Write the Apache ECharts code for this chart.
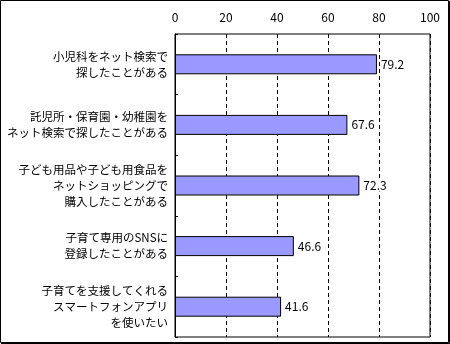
<!DOCTYPE html>
<html>
<head>
<meta charset="utf-8">
<script src="https://cdn.jsdelivr.net/npm/echarts@6/dist/echarts.min.js"></script>
<style>
  html, body { margin: 0; padding: 0; background: #fff; }
  #chart { width: 450px; height: 344px; }
</style>
</head>
<body>
<div id="chart"></div>
<script>
// Survey items (top to bottom) and their shares in percent
const categories = [
  '小児科をネット検索で\n探したことがある',
  '託児所・保育園・幼稚園を\nネット検索で探したことがある',
  '子ども用品や子ども用食品を\nネットショッピングで\n購入したことがある',
  '子育て専用のSNSに\n登録したことがある',
  '子育てを支援してくれる\nスマートフォンアプリ\nを使いたい'
];
const values = [79.2, 67.6, 72.3, 46.6, 41.6];
const xTicks = [0, 20, 40, 60, 80, 100];

const FONT = '"Noto Sans CJK JP"';

const chart = echarts.init(document.getElementById('chart'), null, { renderer: 'canvas' });
chart.setOption({
  animation: false,
  backgroundColor: '#fff',
  grid: {
    left: 175, right: 20, top: 34, bottom: 7,
    outerBoundsMode: 'none',
    containLabel: false,
    show: true, borderColor: '#000', borderWidth: 1
  },
  xAxis: {
    type: 'value',
    position: 'top',
    min: xTicks[0],
    max: xTicks[xTicks.length - 1],
    interval: 20,
    axisLine: { show: false },
    axisTick: { show: false },
    axisLabel: { color: '#000', fontSize: 12, fontFamily: FONT, margin: 11 },
    splitLine: { show: true, lineStyle: { color: '#000', type: [4, 3], width: 1 } }
  },
  yAxis: {
    type: 'category',
    inverse: true,
    data: categories,
    axisLine: { show: true, lineStyle: { color: '#000' } },
    axisTick: { show: true, inside: true, length: 3, lineStyle: { color: '#000' } },
    axisLabel: { color: '#000', fontSize: 11.5, fontFamily: FONT, lineHeight: 16, margin: 7, align: 'right' }
  },
  series: [{
    type: 'bar',
    data: values,
    barWidth: 20,
    itemStyle: { color: '#9999FF', borderColor: '#000', borderWidth: 1 },
    label: {
      show: true,
      position: 'right',
      distance: 3,
      color: '#000',
      fontSize: 12,
      fontFamily: FONT,
      backgroundColor: '#fff',
      padding: [0, 1],
      formatter: p => p.value.toFixed(1)
    }
  }],
  graphic: [{
    type: 'rect',
    silent: true,
    shape: { x: 0.5, y: 0.5, width: 448, height: 342 },
    style: { fill: 'none', stroke: '#000', lineWidth: 1 }
  }, {
    type: 'polyline',
    silent: true,
    shape: { points: [[449.5, 1], [449.5, 343.5], [1, 343.5]] },
    style: { fill: 'none', stroke: '#000', lineWidth: 1 }
  }]
});
</script>
</body>
</html>
